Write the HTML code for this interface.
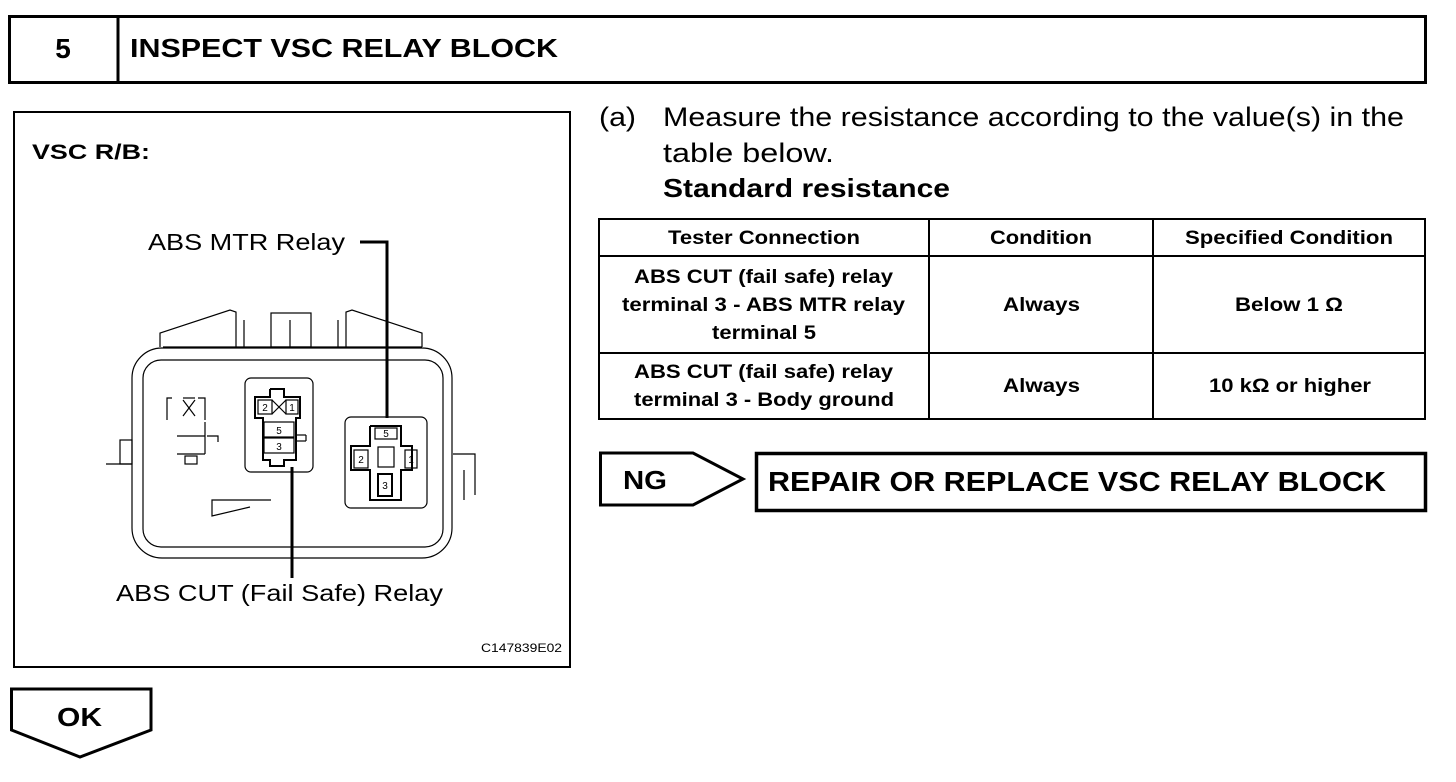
<!DOCTYPE html>
<html><head><style>
body{margin:0;background:#fff;width:1456px;height:782px;overflow:hidden}
svg{display:block}
text{font-family:"Liberation Sans",Arial,sans-serif;fill:#000}
.b{font-weight:bold}
</style></head><body>
<svg width="1456" height="782" viewBox="0 0 1456 782">
<!-- header -->
<rect x="9.5" y="16.5" width="1416" height="66" fill="none" stroke="#000" stroke-width="3"/>
<line x1="118" y1="16" x2="118" y2="83" stroke="#000" stroke-width="3"/>
<text x="63" y="58" class="b" font-size="28" text-anchor="middle">5</text>
<text x="130" y="57" class="b" font-size="26" textLength="428" lengthAdjust="spacingAndGlyphs">INSPECT VSC RELAY BLOCK</text>

<!-- diagram box -->
<rect x="14" y="112" width="556" height="555" fill="none" stroke="#000" stroke-width="2"/>
<text x="32" y="159" class="b" font-size="21" textLength="118" lengthAdjust="spacingAndGlyphs">VSC R/B:</text>
<text x="148" y="250" font-size="23" textLength="197" lengthAdjust="spacingAndGlyphs">ABS MTR Relay</text>
<text x="116" y="601" font-size="23" textLength="327" lengthAdjust="spacingAndGlyphs">ABS CUT (Fail Safe) Relay</text>
<text x="481" y="652" font-size="12" textLength="81" lengthAdjust="spacingAndGlyphs">C147839E02</text>
<polyline points="360,242 387,242 387,418" fill="none" stroke="#000" stroke-width="3"/>
<line x1="292" y1="467" x2="292" y2="578" stroke="#000" stroke-width="3"/>
<g fill="none" stroke="#000" stroke-width="1.2">
<rect x="132" y="348" width="320" height="210" rx="30"/>
<rect x="143" y="360" width="300" height="187" rx="18"/>
<line x1="163" y1="347" x2="422" y2="347"/>
<polyline points="160,347 160,333 230,310 236,312 236,347"/>
<polyline points="422,347 422,333 352,310 346,312 346,347"/>
<rect x="271" y="313" width="40" height="34"/>
<line x1="290" y1="320" x2="290" y2="347"/>
<line x1="244" y1="320" x2="244" y2="347"/>
<line x1="338" y1="320" x2="338" y2="347"/>
<rect x="120" y="440" width="12" height="24"/>
<line x1="106" y1="464" x2="132" y2="464"/>
<polyline points="453,454 475,454 475,495"/>
<line x1="464" y1="470" x2="464" y2="500"/>
<rect x="245" y="378" width="68" height="94" rx="6"/>
<polyline points="270,389 284,389 284,397 300,397 300,418 296,418 296,460 284,460 284,466 270,466 270,460 263,460 263,418 255,418 255,397 270,397 270,389" stroke-width="2"/>
<rect x="258" y="400" width="14" height="14"/><rect x="286" y="400" width="12" height="14"/>
<line x1="272" y1="400" x2="286" y2="414"/><line x1="272" y1="414" x2="286" y2="400"/>
<rect x="264" y="422" width="30" height="15"/><rect x="264" y="438" width="30" height="15"/>
<line x1="296" y1="435" x2="306" y2="435"/><line x1="306" y1="435" x2="306" y2="441"/><line x1="296" y1="441" x2="306" y2="441"/>
<rect x="345" y="417" width="82" height="91" rx="6"/>
<polyline points="370,426 401,426 401,446 412,446 412,470 401,470 401,500 370,500 370,470 351,470 351,446 370,446 370,426" stroke-width="2"/>
<rect x="375" y="428" width="22" height="11"/>
<rect x="378" y="447" width="16" height="20"/>
<rect x="354" y="450" width="14" height="18"/><rect x="405" y="450" width="12" height="18"/>
<rect x="378" y="474" width="14" height="22" stroke-width="2"/>
<polyline points="167,420 167,398 172,398"/><polyline points="198,398 205,398 205,420"/>
<line x1="183" y1="398" x2="195" y2="398"/>
<line x1="183" y1="400" x2="195" y2="416"/><line x1="195" y1="400" x2="183" y2="416"/>
<line x1="177" y1="436" x2="205" y2="436"/><line x1="177" y1="454" x2="205" y2="454"/>
<line x1="205" y1="422" x2="205" y2="454"/>
<polyline points="207,436 218,436 218,442"/>
<rect x="185" y="456" width="12" height="8"/>
<polyline points="271,500 212,500 212,516 250,507"/>
</g>
<g font-family="Liberation Sans" font-size="10" text-anchor="middle">
<text x="265" y="411">2</text><text x="292" y="411">1</text>
<text x="279" y="434">5</text><text x="279" y="450">3</text>
<text x="386" y="437">5</text><text x="361" y="463">2</text><text x="411" y="463">1</text><text x="385" y="489">3</text>
</g>

<!-- right text -->
<text x="599" y="126" font-size="27" textLength="37" lengthAdjust="spacingAndGlyphs">(a)</text>
<text x="663" y="126" font-size="27" textLength="741" lengthAdjust="spacingAndGlyphs">Measure the resistance according to the value(s) in the</text>
<text x="663" y="162" font-size="27" textLength="171" lengthAdjust="spacingAndGlyphs">table below.</text>
<text x="663" y="197" class="b" font-size="26" textLength="287" lengthAdjust="spacingAndGlyphs">Standard resistance</text>

<!-- table -->
<g fill="none" stroke="#000" stroke-width="2">
<rect x="599" y="219" width="826" height="200"/>
<line x1="929" y1="219" x2="929" y2="419"/>
<line x1="1153" y1="219" x2="1153" y2="419"/>
<line x1="599" y1="256" x2="1425" y2="256"/>
<line x1="599" y1="353" x2="1425" y2="353"/>
</g>
<g font-size="19" font-weight="bold">
<text x="668" y="244" textLength="192" lengthAdjust="spacingAndGlyphs">Tester Connection</text>
<text x="990" y="244" textLength="102" lengthAdjust="spacingAndGlyphs">Condition</text>
<text x="1185" y="244" textLength="208" lengthAdjust="spacingAndGlyphs">Specified Condition</text>
<text x="634" y="283" textLength="259" lengthAdjust="spacingAndGlyphs">ABS CUT (fail safe) relay</text>
<text x="622" y="311" textLength="283" lengthAdjust="spacingAndGlyphs">terminal 3 - ABS MTR relay</text>
<text x="712" y="339" textLength="104" lengthAdjust="spacingAndGlyphs">terminal 5</text>
<text x="1003" y="311" textLength="77" lengthAdjust="spacingAndGlyphs">Always</text>
<text x="1235" y="311" textLength="108" lengthAdjust="spacingAndGlyphs">Below 1 Ω</text>
<text x="634" y="378" textLength="259" lengthAdjust="spacingAndGlyphs">ABS CUT (fail safe) relay</text>
<text x="634" y="406" textLength="260" lengthAdjust="spacingAndGlyphs">terminal 3 - Body ground</text>
<text x="1003" y="392" textLength="77" lengthAdjust="spacingAndGlyphs">Always</text>
<text x="1209" y="392" textLength="162" lengthAdjust="spacingAndGlyphs">10 kΩ or higher</text>
</g>

<!-- NG -->
<polygon points="600.5,453 693,453 743,479 693,505 600.5,505" fill="none" stroke="#000" stroke-width="3"/>
<text x="623" y="489" class="b" font-size="26" textLength="44" lengthAdjust="spacingAndGlyphs">NG</text>
<rect x="756.5" y="453.5" width="669" height="57" fill="none" stroke="#000" stroke-width="3.5"/>
<text x="768" y="491" class="b" font-size="28" textLength="618" lengthAdjust="spacingAndGlyphs">REPAIR OR REPLACE VSC RELAY BLOCK</text>

<!-- OK -->
<polygon points="11.5,689 151,689 151,730 80,757 11.5,730" fill="none" stroke="#000" stroke-width="3"/>
<text x="57" y="726" class="b" font-size="26" textLength="45" lengthAdjust="spacingAndGlyphs">OK</text>
</svg>
</body></html>
